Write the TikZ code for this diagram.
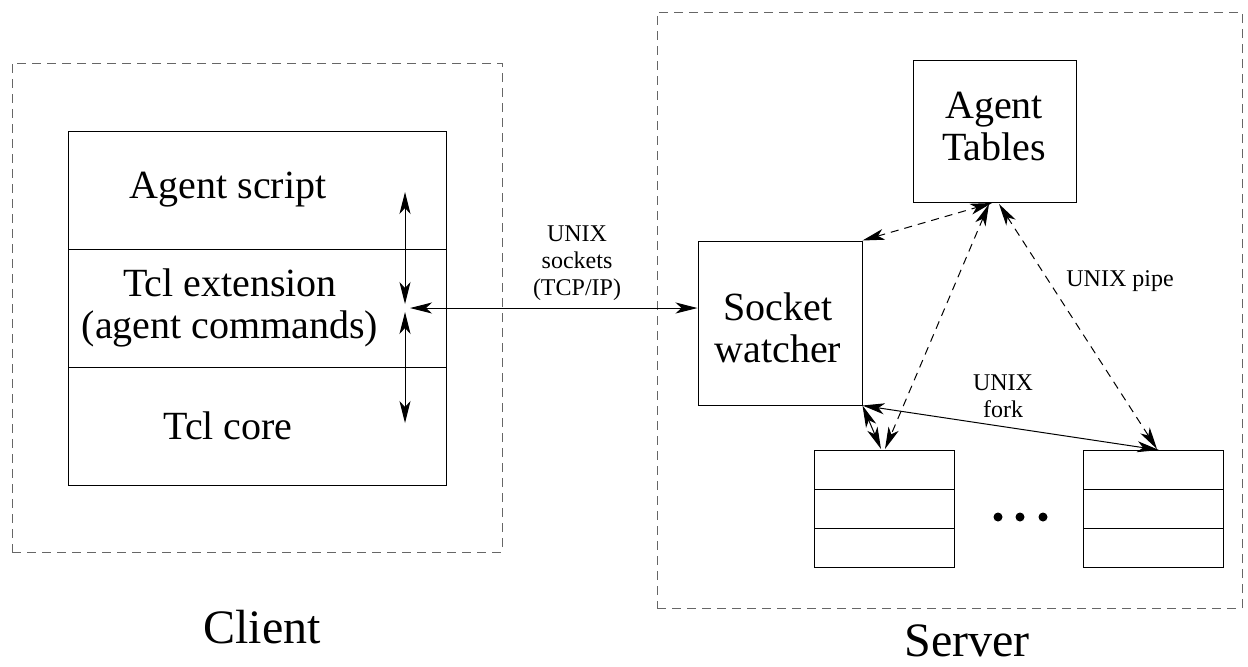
\documentclass[tikz,border=0pt]{standalone}
\usepackage{fontspec}
\setmainfont{Liberation Serif}
\usetikzlibrary{arrows.meta}
\begin{document}
\begin{tikzpicture}[x=0.5pt,y=-0.5pt,
  box/.style={draw,line width=0.5pt,inner sep=0pt},
  outer/.style={draw=black!60,dash pattern=on 4.5pt off 3pt,line width=0.5pt,inner sep=0pt},
  big/.style={font=\fontsize{20}{21}\selectfont,align=center,inner sep=0pt},
  small/.style={font=\fontsize{12}{13.5}\selectfont,align=center,inner sep=0pt},
  huge/.style={font=\fontsize{24}{26}\selectfont,inner sep=0pt},
  tip/.tip={Stealth[length=11pt,width=5.5pt,inset=3pt]},
  arr/.style={line width=0.5pt,tip-tip},
  darr/.style={arr,dash pattern=on 4pt off 3pt},
  dot/.style={circle,fill,inner sep=0pt,minimum size=4.5pt}]
\useasboundingbox (0,0) rectangle (1248,666);
% Client
\node[outer,minimum width=245pt,minimum height=244.5pt] (client) at (257,307.5) {};
\node[box,minimum width=189pt,minimum height=59pt] (l1) at (257,190) {};
\node[box,minimum width=189pt,minimum height=59pt] (l2) at (257,308) {};
\node[box,minimum width=189pt,minimum height=59pt] (l3) at (257,426) {};
\node[big] (t1) at (228,190) {Agent script};
\node[big] (t2) at (230,308) {Tcl extension\\(agent commands)};
\node[big] (t3) at (228,426) {Tcl core};
\node[huge] (clientlbl) at (262,627) {Client};
% Server
\node[outer,minimum width=292.5pt,minimum height=298pt] (server) at (949.5,310) {};
\node[huge] (serverlbl) at (967,641) {Server};
\node[box,minimum width=81.5pt,minimum height=71pt] (at) at (994.5,131) {};
\node[big] (att) at (994,126) {Agent\\Tables};
\node[box,minimum width=82pt,minimum height=82pt] (sw) at (780,323) {};
\node[big] (swt) at (778,328) {Socket\\watcher};
\node[box,minimum width=70pt,minimum height=19.5pt] (ls1) at (884,469.5) {};
\node[box,minimum width=70pt,minimum height=19.5pt] (ls2) at (884,508.5) {};
\node[box,minimum width=70pt,minimum height=19.5pt] (ls3) at (884,547.5) {};
\node[box,minimum width=70pt,minimum height=19.5pt] (rs1) at (1153,469.5) {};
\node[box,minimum width=70pt,minimum height=19.5pt] (rs2) at (1153,508.5) {};
\node[box,minimum width=70pt,minimum height=19.5pt] (rs3) at (1153,547.5) {};
\node[dot] (d1) at (998,517) {};
\node[dot] (d2) at (1020,517) {};
\node[dot] (d3) at (1043,517) {};
% labels
\node[small] (sock) at (577,263) {UNIX\\sockets\\(TCP/IP)};
\node[small] (pipe) at (1120,281) {UNIX pipe};
\node[small] (fork) at (1003,396) {UNIX\\fork};
% client arrows
\coordinate (a1) at (405,192);
\coordinate (a2) at (405,304);
\coordinate (a3) at (405,312);
\coordinate (a4) at (405,423);
\draw[arr] (a1) -- (a2);
\draw[arr] (a3) -- (a4);
\coordinate (h1) at (410,308);
\draw[arr] (h1) -- (h1 -| sw.west);
% server arrows
\coordinate (tA) at (992,203);
\coordinate (tB) at (989,204);
\coordinate (tC) at (999,204);
\coordinate (lt) at (885,449);
\coordinate (lt2) at (881,449);
\coordinate (rt) at (1157,449);
\coordinate (rt2) at (1159,450);
\draw[darr] (sw.north east) -- (tA);
\draw[darr] (tB) -- (lt);
\draw[darr] (tC) -- (rt);
\draw[arr] (sw.south east) -- (rt2);
\draw[arr] (sw.south east) -- (lt2);
\end{tikzpicture}
\end{document}
